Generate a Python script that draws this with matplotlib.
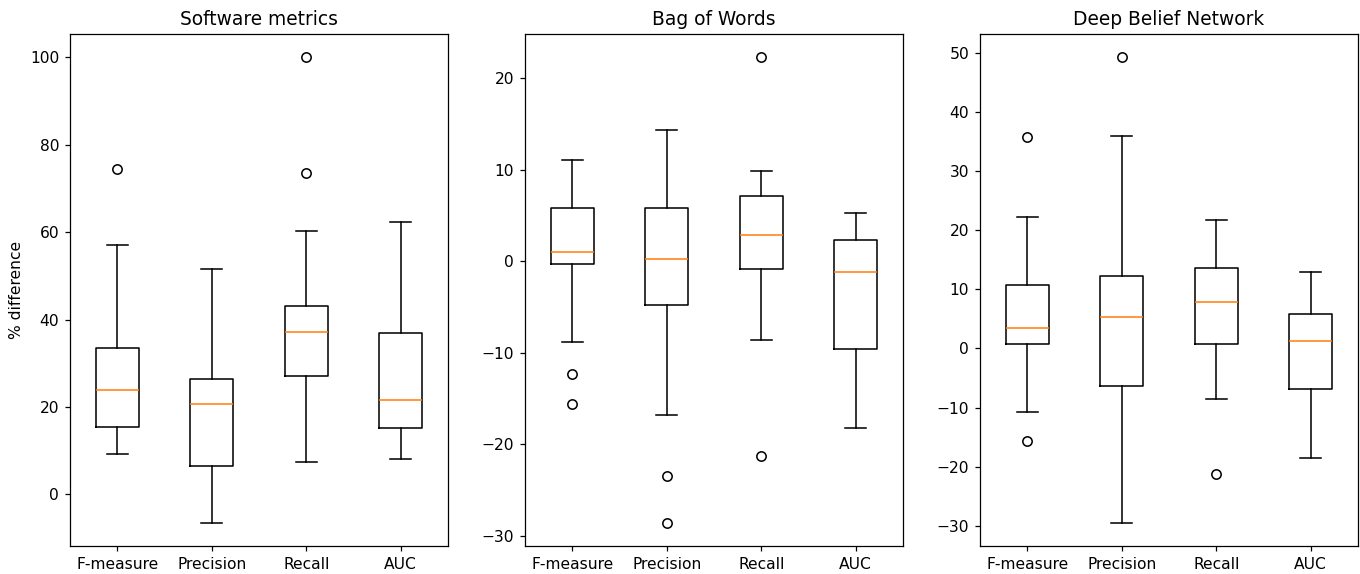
import matplotlib
matplotlib.use("Agg")
import matplotlib.pyplot as plt

categories = ["F-measure", "Precision", "Recall", "AUC"]
titles = ["Software metrics", "Bag of Words", "Deep Belief Network"]

# Software metrics
sm_whislo = [9.3, -6.5, 7.5, 8.0]
sm_q1 = [15.3, 6.5, 27.0, 15.2]
sm_med = [23.8, 20.7, 37.1, 21.5]
sm_q3 = [33.5, 26.3, 43.0, 37.0]
sm_whishi = [57.0, 51.5, 60.2, 62.3]
sm_fliers = [[74.5], [], [100.0, 73.5], []]

# Bag of Words
bow_whislo = [-8.8, -16.8, -8.6, -18.2]
bow_q1 = [-0.3, -4.8, -0.8, -9.6]
bow_med = [1.0, 0.2, 2.9, -1.2]
bow_q3 = [5.8, 5.8, 7.1, 2.3]
bow_whishi = [11.1, 14.4, 9.9, 5.3]
bow_fliers = [[-12.3, -15.6], [-23.5, -28.6], [22.3, -21.3], []]

# Deep Belief Network
dbn_whislo = [-10.8, -29.5, -8.6, -18.5]
dbn_q1 = [0.8, -6.3, 0.8, -6.8]
dbn_med = [3.5, 5.4, 7.9, 1.3]
dbn_q3 = [10.7, 12.3, 13.6, 5.9]
dbn_whishi = [22.2, 36.0, 21.7, 13.0]
dbn_fliers = [[35.8, -15.6], [49.3], [-21.3], []]

panels = [
    (sm_whislo, sm_q1, sm_med, sm_q3, sm_whishi, sm_fliers),
    (bow_whislo, bow_q1, bow_med, bow_q3, bow_whishi, bow_fliers),
    (dbn_whislo, dbn_q1, dbn_med, dbn_q3, dbn_whishi, dbn_fliers),
]

DPI = 112
fig = plt.figure(figsize=(1360 / DPI, 574 / DPI), dpi=DPI)
lefts = [70 / 1360, 525 / 1360, 980 / 1360]
width = 378 / 1360
bottom = 28 / 574
height = 512 / 574

for i, (lo, q1, med, q3, hi, fl) in enumerate(panels):
    ax = fig.add_axes([lefts[i], bottom, width, height])
    stats = []
    for j, lab in enumerate(categories):
        stats.append(dict(label=lab, whislo=lo[j], q1=q1[j], med=med[j],
                          q3=q3[j], whishi=hi[j], fliers=fl[j]))
    ax.bxp(stats, showfliers=True)
    ax.set_xlim(0.5, 4.5)
    ax.set_title(titles[i])
    if i == 0:
        ax.set_ylabel("% difference")

fig.savefig("out.png", dpi=DPI)
